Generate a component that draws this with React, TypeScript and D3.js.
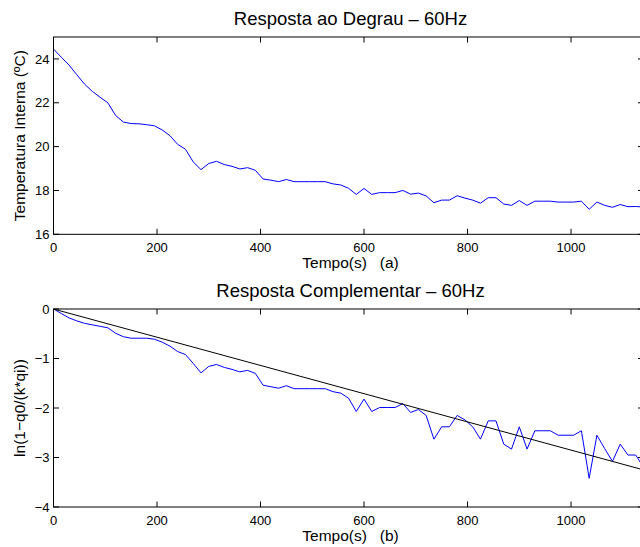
import React from "react";
import * as d3 from "d3";

const times = [0, 15, 30, 45, 60, 75, 90, 105, 120, 135, 150, 165, 180, 195, 210, 225, 240, 255, 270, 285, 300, 315, 330, 345, 360, 375, 390, 405, 420, 435, 450, 465, 480, 495, 510, 525, 540, 555, 570, 585, 600, 615, 630, 645, 660, 675, 690, 705, 720, 735, 750, 765, 780, 795, 810, 825, 840, 855, 870, 885, 900, 915, 930, 945, 960, 975, 990, 1005, 1020, 1035, 1050, 1065, 1080, 1095, 1110, 1125, 1140];

const tempInterna = [24.45, 24.08, 23.72, 23.28, 22.85, 22.52, 22.25, 22.0, 21.42, 21.12, 21.05, 21.04, 21.0, 20.95, 20.76, 20.5, 20.1, 19.88, 19.3, 18.95, 19.23, 19.33, 19.18, 19.1, 18.98, 19.04, 18.92, 18.52, 18.47, 18.4, 18.5, 18.4, 18.4, 18.4, 18.4, 18.4, 18.3, 18.25, 18.1, 17.82, 18.09, 17.82, 17.9, 17.9, 17.9, 18.0, 17.83, 17.88, 17.75, 17.44, 17.56, 17.56, 17.76, 17.65, 17.56, 17.42, 17.67, 17.67, 17.38, 17.32, 17.54, 17.32, 17.51, 17.51, 17.51, 17.47, 17.47, 17.47, 17.51, 17.14, 17.47, 17.32, 17.23, 17.36, 17.26, 17.27, 17.24];

const lnResp = [0, -0.09, -0.18, -0.24, -0.29, -0.32, -0.35, -0.38, -0.49, -0.56, -0.59, -0.59, -0.59, -0.61, -0.67, -0.75, -0.86, -0.92, -1.1, -1.29, -1.16, -1.12, -1.18, -1.22, -1.27, -1.24, -1.3, -1.54, -1.57, -1.6, -1.55, -1.61, -1.61, -1.61, -1.61, -1.61, -1.67, -1.7, -1.8, -2.07, -1.82, -2.07, -1.99, -1.99, -1.99, -1.91, -2.09, -2.03, -2.15, -2.63, -2.38, -2.38, -2.15, -2.24, -2.38, -2.63, -2.26, -2.26, -2.73, -2.83, -2.38, -2.83, -2.46, -2.46, -2.46, -2.55, -2.55, -2.55, -2.46, -3.42, -2.55, -2.82, -3.08, -2.73, -2.95, -2.95, -3.2];

const fitTimes = [0, 1140];
const fitValues = [0, -3.25];

const xTicks = [0, 200, 400, 600, 800, 1000];
const yTicksTop = [16, 18, 20, 22, 24];
const yTicksBottom = [-4, -3, -2, -1, 0];

const FONT = "'Liberation Sans', Arial, Helvetica, sans-serif";

function fmt(v: number) {
  return v < 0 ? "\u2212" + Math.abs(v) : String(v);
}

type PanelProps = {
  top: number;
  height: number;
  yDomain: [number, number];
  yTicks: number[];
  title: string;
  xlabel: string;
  ylabel: string;
  series: { x: number[]; y: number[]; color: string }[];
  id: string;
};

function Panel({ top, height, yDomain, yTicks, title, xlabel, ylabel, series, id }: PanelProps) {
  const left = 53.5;
  const right = 643.5;
  const bottom = top + height;
  const x = d3.scaleLinear().domain([0, 1140]).range([left, right]);
  const y = d3.scaleLinear().domain(yDomain).range([bottom, top]);
  const line = d3
    .line<[number, number]>()
    .x((d) => x(d[0]))
    .y((d) => y(d[1]));
  const tick = 5.5;
  const cx = (left + right) / 2 + 2;
  return (
    <g>
      <defs>
        <clipPath id={id}>
          <rect x={left} y={top} width={right - left} height={height} />
        </clipPath>
      </defs>
      <rect x={left} y={top} width={right - left} height={height} fill="white" />
      <g clipPath={`url(#${id})`}>
        {series.map((s, i) => (
          <path
            key={i}
            d={line(s.x.map((t, j) => [t, s.y[j]] as [number, number])) || ""}
            fill="none"
            stroke={s.color}
            strokeWidth={1}
          />
        ))}
      </g>
      <rect x={left} y={top} width={right - left} height={height} fill="none" stroke="black" strokeWidth={1} />
      {xTicks.map((t) => (
        <g key={"x" + t}>
          <line x1={x(t)} x2={x(t)} y1={bottom} y2={bottom - tick} stroke="black" />
          <line x1={x(t)} x2={x(t)} y1={top} y2={top + tick} stroke="black" />
          <text x={x(t)} y={bottom + 17.5} textAnchor="middle" fontSize={13} fontFamily={FONT}>
            {t}
          </text>
        </g>
      ))}
      {yTicks.map((t) => (
        <g key={"y" + t}>
          <line x1={left} x2={left + tick} y1={y(t)} y2={y(t)} stroke="black" />
          <line x1={right} x2={right - tick} y1={y(t)} y2={y(t)} stroke="black" />
          <text x={left - 4} y={y(t) + 4.6} textAnchor="end" fontSize={13} fontFamily={FONT}>
            {fmt(t)}
          </text>
        </g>
      ))}
      <text x={cx} y={top - 12} textAnchor="middle" fontSize={18.5} fontFamily={FONT}>
        {title}
      </text>
      <text
        x={cx}
        y={bottom + 34}
        textAnchor="middle"
        fontSize={15.5}
        fontFamily={FONT}
        style={{ whiteSpace: "pre" }}
      >
        {xlabel}
      </text>
      <text
        transform={`translate(24.5, ${(top + bottom) / 2}) rotate(-90)`}
        textAnchor="middle"
        fontSize={15.5}
        fontFamily={FONT}
      >
        {ylabel}
      </text>
    </g>
  );
}

export default function App() {
  return (
    <svg
      width={640}
      height={547}
      style={{ position: "absolute", left: 0, top: 0, background: "white", display: "block" }}
    >
      <rect x={0} y={0} width={640} height={547} fill="white" />
      <Panel
        id="clipA"
        top={37}
        height={197.3}
        yDomain={[16, 25]}
        yTicks={yTicksTop}
        title={"Resposta ao Degrau \u2013 60Hz"}
        xlabel={"Tempo(s)   (a)"}
        ylabel={"Temperatura Interna (\u00BAC)"}
        series={[{ x: times, y: tempInterna, color: "#0000ff" }]}
      />
      <Panel
        id="clipB"
        top={309}
        height={198}
        yDomain={[-4, 0]}
        yTicks={yTicksBottom}
        title={"Resposta Complementar \u2013 60Hz"}
        xlabel={"Tempo(s)   (b)"}
        ylabel={"ln(1\u2212q0/(k*qi))"}
        series={[
          { x: times, y: lnResp, color: "#0000ff" },
          { x: fitTimes, y: fitValues, color: "#000000" },
        ]}
      />
    </svg>
  );
}
